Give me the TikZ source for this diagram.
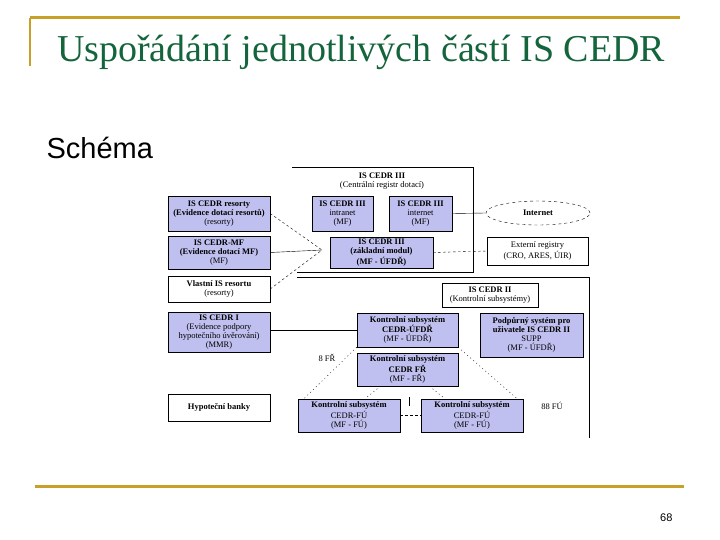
\documentclass[tikz,border=0pt]{standalone}
\usepackage{fontspec}
\setmainfont{Liberation Serif}
\setsansfont{Liberation Sans}
\usetikzlibrary{shapes.geometric}

\definecolor{boxblue}{RGB}{192,192,240}
\definecolor{titlegreen}{RGB}{20,100,60}
\definecolor{gold}{RGB}{200,160,40}

\begin{document}
\begin{tikzpicture}[
  x=1pt,y=-1pt,
  font=\fontsize{8.5}{9.1}\selectfont,
  blu/.style={draw,fill=boxblue,inner sep=0.5pt,align=center},
  wht/.style={draw,fill=white,inner sep=0.5pt,align=center},
  dotline/.style={dash pattern=on 1pt off 3pt},
  dashline/.style={dash pattern=on 2.5pt off 2.5pt}
]
\useasboundingbox (0,0) rectangle (720,540);

% titulek a linky
\draw[gold,line width=3pt] (30,18) -- (680,18);
\draw[gold,line width=2.5pt] (30,18) -- (30,66);
\draw[gold,line width=3pt] (35,486) -- (684,486);
\node[anchor=base,text=titlegreen,font=\fontsize{38}{40}\selectfont] (title) at (361,62)
  {Uspořádání jednotlivých částí IS CEDR};
\node[anchor=base west,font=\sffamily\fontsize{29}{31}\selectfont] (schema) at (43,159) {Schéma};
\node[anchor=base east,font=\sffamily\fontsize{11}{12}\selectfont] (page) at (676,521) {68};

% ramce IS CEDR III a IS CEDR II
\draw (292,167) -- (473,167) -- (473,272) -- (297,272);
\draw (297,277) -- (589,277) -- (589,438);
\node[align=center] (c3) at (382,181) {\textbf{IS CEDR III}\\(Centrální registr dotací)};

% levy sloupec
\node[blu,minimum width=102pt,minimum height=35pt] (res) at (219,213.5)
  {\textbf{IS CEDR resorty}\\\textbf{(Evidence dotací resortů)}\\(resorty)};
\node[blu,minimum width=102pt,minimum height=33pt] (mf) at (219,252.5)
  {\textbf{IS CEDR-MF}\\\textbf{(Evidence dotací MF)}\\(MF)};
\node[wht,minimum width=102pt,minimum height=26pt] (vlast) at (219,289)
  {\textbf{Vlastní IS resortu}\\(resorty)};
\node[blu,minimum width=102pt,minimum height=40pt] (c1) at (219,332)
  {\textbf{IS CEDR I}\\(Evidence podpory\\hypotečního úvěrování)\\(MMR)};
\node[wht,minimum width=102pt,minimum height=27pt] (hyp) at (219,407.5)
  {\textbf{Hypoteční banky}};

% IS CEDR III
\node[blu,minimum width=61pt,minimum height=35pt] (intra) at (342.5,213.5)
  {\textbf{IS CEDR III}\\intranet\\(MF)};
\node[blu,minimum width=63pt,minimum height=35pt] (inter) at (420.5,213.5)
  {\textbf{IS CEDR III}\\internet\\(MF)};
\node[blu,minimum width=103pt,minimum height=31pt] (zakl) at (381.5,252.5)
  {\textbf{IS CEDR III}\\\textbf{(základní modul)}\\\textbf{(MF - ÚFDŘ)}};
\coordinate (conv) at (322,250);

% vpravo
\node[ellipse,draw,dashed,minimum width=104pt,minimum height=24pt,inner sep=0pt] (inet) at (538,213)
  {\textbf{Internet}};
\node[wht,minimum width=101pt,minimum height=28pt] (ext) at (537.5,251)
  {Externí registry\\(CRO, ARES, ÚIR)};

% IS CEDR II
\node[wht,minimum width=96pt,minimum height=24pt] (c2) at (490,295)
  {\textbf{IS CEDR II}\\(Kontrolní subsystémy)};
\node[blu,minimum width=101pt,minimum height=34pt] (ufdr) at (407.5,330)
  {\textbf{Kontrolní subsystém}\\\textbf{CEDR-ÚFDŘ}\\(MF - ÚFDŘ)};
\node[blu,minimum width=103pt,minimum height=44pt] (supp) at (531.5,335)
  {\textbf{Podpůrný systém pro}\\\textbf{uživatele IS CEDR II}\\SUPP\\(MF - ÚFDŘ)};
\node[blu,minimum width=101pt,minimum height=33pt] (fr) at (407.5,369.5)
  {\textbf{Kontrolní subsystém}\\\textbf{CEDR FŘ}\\(MF - FŘ)};
\node[blu,minimum width=102pt,minimum height=33pt] (fuL) at (349,415.5)
  {\textbf{Kontrolní subsystém}\\CEDR-FÚ\\(MF - FÚ)};
\node[blu,minimum width=102pt,minimum height=33pt] (fuR) at (472,415.5)
  {\textbf{Kontrolní subsystém}\\CEDR-FÚ\\(MF - FÚ)};
\node (nfr) at (327,358) {8 FŘ};
\node (nfu) at (552,406) {88 FÚ};
\coordinate (tickA) at (409,397);
\coordinate (tickB) at (409,406);

% spojeni
\draw[dashline] (res.east) -- (conv);
\draw (mf.east) -- (conv);
\draw[dashline] (vlast.east) -- (conv);
\draw (inter.east) -- (inet.west);
\draw[dashline] (zakl.east) -- (ext.west);
\draw (c1.east |- ufdr.west) -- (ufdr.west);
\draw[dotline] (ufdr.south west) -- ([xshift=6pt]fuL.north west);
\draw[dotline] (ufdr.south east) -- ([xshift=-6pt]fuR.north east);
\draw[dotline] ([xshift=-27pt]fr.south) -- ([xshift=16pt]fuL.north);
\draw[dotline] ([xshift=22pt]fr.south) -- ([xshift=-27pt]fuR.north);
\draw[dashline] (fuL.east) -- (fuR.west);
\draw (tickA) -- (tickB);
\end{tikzpicture}
\end{document}
